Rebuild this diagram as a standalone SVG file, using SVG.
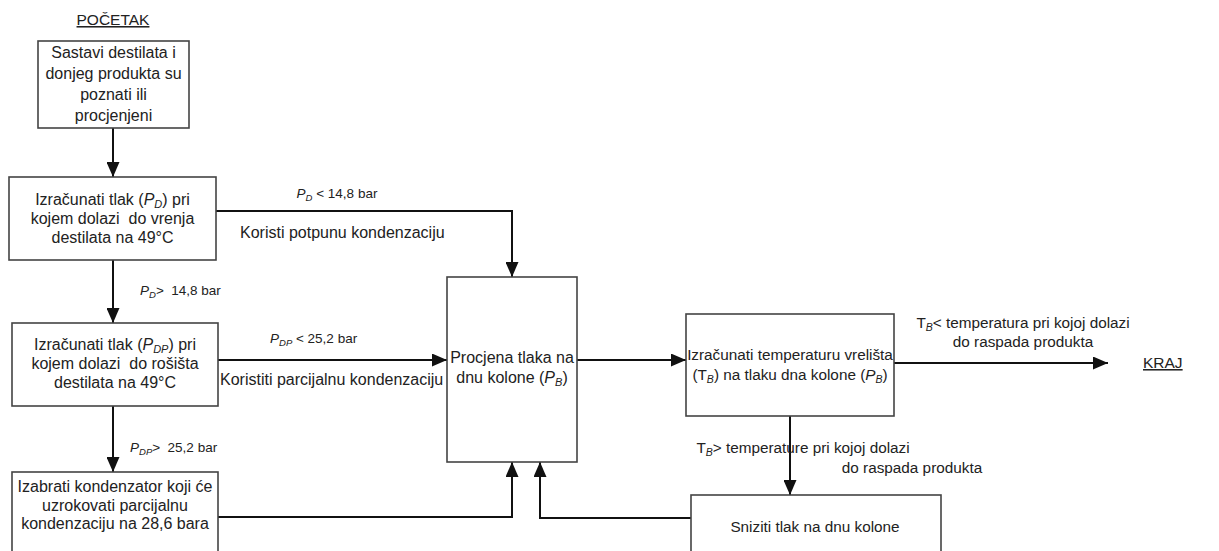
<svg xmlns="http://www.w3.org/2000/svg" width="1219" height="551" viewBox="0 0 1219 551">
<style>
  text { font-family: "Liberation Sans", Arial, sans-serif; fill: #222; }
  .t { font-size: 16px; text-anchor: middle; }
  .t15 { font-size: 15.3px; text-anchor: middle; }
  .lbl { font-size: 13.5px; }
  .lbl16 { font-size: 16px; }
  .term { font-size: 15.5px; text-decoration: underline; }
  .box { fill: #fff; stroke: #444; stroke-width: 1.6; }
  .conn { fill: none; stroke: #111; stroke-width: 2; }
  .i { font-style: italic; }
</style>
<defs>
  <marker id="arr" markerUnits="userSpaceOnUse" markerWidth="16" markerHeight="13" refX="15" refY="6.5" orient="auto">
    <path d="M0,0 L15,6.5 L0,13 z" fill="#111"/>
  </marker>
</defs>
<rect width="1219" height="551" fill="#fff"/>

<g id="start"><text class="term" x="113" y="25" text-anchor="middle">POČETAK</text></g>
<g id="end"><text class="term" x="1143" y="368">KRAJ</text></g>

<g id="connectors">
  <path class="conn" d="M113,128 V177" marker-end="url(#arr)"/>
  <path class="conn" d="M216,211 H512 V277" marker-end="url(#arr)"/>
  <path class="conn" d="M113,260 V323" marker-end="url(#arr)"/>
  <path class="conn" d="M218,360 H447" marker-end="url(#arr)"/>
  <path class="conn" d="M113,406 V472" marker-end="url(#arr)"/>
  <path class="conn" d="M218,517 H512 V462" marker-end="url(#arr)"/>
  <path class="conn" d="M577,360 H686" marker-end="url(#arr)"/>
  <path class="conn" d="M894,363 H1108" marker-end="url(#arr)"/>
  <path class="conn" d="M790,416 V495" marker-end="url(#arr)"/>
  <path class="conn" d="M691,518 H540 V462" marker-end="url(#arr)"/>
  <text class="lbl" x="337" y="198" text-anchor="middle"><tspan class="i">P</tspan><tspan class="i" font-size="9.5" dy="3">D</tspan><tspan dy="-3"> &lt; 14,8 bar</tspan></text>
  <text class="lbl16" x="240" y="238">Koristi potpunu kondenzaciju</text>
  <text class="lbl" x="140" y="295"><tspan class="i">P</tspan><tspan class="i" font-size="9.5" dy="3">D</tspan><tspan dy="-3">&gt;&#160; 14,8 bar</tspan></text>
  <text class="lbl" x="270" y="343"><tspan class="i">P</tspan><tspan class="i" font-size="9.5" dy="3">DP</tspan><tspan dy="-3"> &lt; 25,2 bar</tspan></text>
  <text class="lbl16" x="220" y="385">Koristiti parcijalnu kondenzaciju</text>
  <text class="lbl" x="130" y="452"><tspan class="i">P</tspan><tspan class="i" font-size="9.5" dy="3">DP</tspan><tspan dy="-3">&gt;&#160; 25,2 bar</tspan></text>
  <text class="t15" x="1023" y="328">T<tspan class="i" font-size="10.5" dy="3">B</tspan><tspan dy="-3">&lt; temperatura pri kojoj dolazi</tspan></text>
  <text class="t15" x="1023" y="347">do raspada produkta</text>
  <text class="t15" x="803" y="453" text-anchor="start">T<tspan class="i" font-size="10.5" dy="3">B</tspan><tspan dy="-3">&gt; temperature pri kojoj dolazi</tspan></text>
  <text class="t15" x="912" y="473">do raspada produkta</text>
</g>

<g id="n1">
  <rect class="box" x="38" y="41" width="151" height="87"/>
  <text class="t" x="113.5" y="58">Sastavi destilata i</text>
  <text class="t" x="113.5" y="79">donjeg produkta su</text>
  <text class="t" x="113.5" y="100">poznati ili</text>
  <text class="t" x="113.5" y="121">procjenjeni</text>
</g>

<g id="n2">
  <rect class="box" x="9" y="177" width="207" height="83"/>
  <text class="t" x="112.5" y="205">Izračunati tlak (<tspan class="i">P</tspan><tspan class="i" font-size="11" dy="3">D</tspan><tspan dy="-3">) pri</tspan></text>
  <text class="t" x="112.5" y="224">kojem dolazi&#160; do vrenja</text>
  <text class="t" x="112.5" y="243">destilata na 49°C</text>
</g>

<g id="n3">
  <rect class="box" x="12" y="323" width="206" height="83"/>
  <text class="t" x="115" y="350">Izračunati tlak (<tspan class="i">P</tspan><tspan class="i" font-size="11" dy="3">DP</tspan><tspan dy="-3">) pri</tspan></text>
  <text class="t" x="115" y="369">kojem dolazi&#160; do rošišta</text>
  <text class="t" x="115" y="388">destilata na 49°C</text>
</g>

<g id="n4">
  <rect class="box" x="12" y="472" width="206" height="95"/>
  <text class="t" x="115" y="492">Izabrati kondenzator koji će</text>
  <text class="t" x="115" y="511">uzrokovati parcijalnu</text>
  <text class="t" x="115" y="529">kondenzaciju na 28,6 bara</text>
</g>

<g id="n5">
  <rect class="box" x="447" y="277" width="130" height="185"/>
  <text class="t" x="512" y="363">Procjena tlaka na</text>
  <text class="t" x="512" y="383">dnu kolone (<tspan class="i">P</tspan><tspan class="i" font-size="11" dy="3">B</tspan><tspan dy="-3">)</tspan></text>
</g>

<g id="n6">
  <rect class="box" x="686" y="314" width="208" height="102"/>
  <text class="t15" x="790" y="360">Izračunati temperaturu vrelišta</text>
  <text class="t15" x="790" y="380">(T<tspan class="i" font-size="10.5" dy="3">B</tspan><tspan dy="-3">) na tlaku dna kolone (</tspan><tspan class="i">P</tspan><tspan class="i" font-size="10.5" dy="3">B</tspan><tspan dy="-3">)</tspan></text>
</g>

<g id="n7">
  <rect class="box" x="691" y="495" width="250" height="70"/>
  <text class="t15" x="815" y="532">Sniziti tlak na dnu kolone</text>
</g>
</svg>
